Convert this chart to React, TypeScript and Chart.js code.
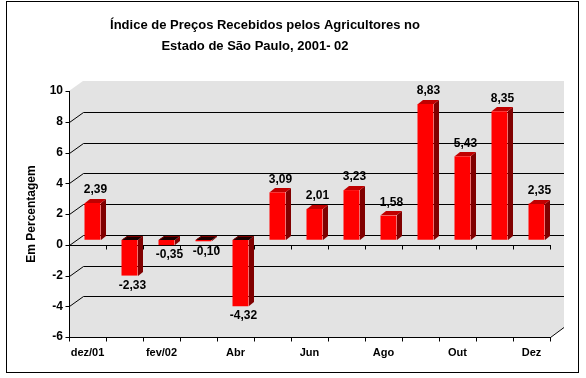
import React, { useEffect, useRef } from 'react';
import { Chart, registerables } from 'chart.js';

Chart.register(...registerables);

const categories = ['dez/01', 'jan/02', 'fev/02', 'Mar', 'Abr', 'Mai', 'Jun', 'Jul', 'Ago', 'Set', 'Out', 'Nov', 'Dez'];
const values = [2.39, -2.33, -0.35, -0.1, -4.32, 3.09, 2.01, 3.23, 1.58, 8.83, 5.43, 8.35, 2.35];
const yTicks = [-6, -4, -2, 0, 2, 4, 6, 8, 10];
const titleLines = ['Índice de Preços Recebidos pelos Agricultores no', 'Estado de São Paulo, 2001- 02'];
const yTitle = 'Em Percentagem';

const FONT = "'Liberation Sans', Arial, sans-serif";
const W = 586;
const H = 378;
const DX = 14; // wall depth x
const DY = 10; // wall depth y
const BX = 5; // bar depth x
const BY = 4; // bar depth y
const SX = 5; // bar shift x
const SY = 5; // bar shift y

const fmt = (v: number) => v.toFixed(2).replace('.', ',');

const excel3d = {
  id: 'excel3d',
  beforeDraw(chart: any) {
    const { ctx, chartArea: a, scales } = chart;
    const y = scales.y;
    ctx.save();
    ctx.fillStyle = '#ffffff';
    ctx.fillRect(0, 0, W, H);
    // outer border
    ctx.strokeStyle = '#000';
    ctx.lineWidth = 1;
    ctx.strokeRect(6.5, 1.5, 572, 371);
    // title
    ctx.fillStyle = '#000';
    ctx.font = `bold 13px ${FONT}`;
    ctx.textAlign = 'center';
    ctx.textBaseline = 'middle';
    ctx.fillText(titleLines[0], 265, 25);
    ctx.fillText(titleLines[1], 255, 46);
    // gray 3D box
    ctx.fillStyle = '#E3E3E3';
    ctx.beginPath();
    ctx.moveTo(a.left, a.top);
    ctx.lineTo(a.left + DX, a.top - DY);
    ctx.lineTo(a.right + DX, a.top - DY);
    ctx.lineTo(a.right + DX, a.bottom - DY);
    ctx.lineTo(a.right, a.bottom);
    ctx.lineTo(a.left, a.bottom);
    ctx.closePath();
    ctx.fill();
    // back wall gridlines with diagonals
    ctx.strokeStyle = '#000';
    ctx.lineWidth = 1;
    for (const v of yTicks) {
      if (v <= y.min || v >= y.max) continue;
      const py = Math.round(y.getPixelForValue(v)) + 0.5;
      ctx.beginPath();
      ctx.moveTo(a.left + 0.5, py);
      ctx.lineTo(a.left + DX + 0.5, py - DY);
      ctx.lineTo(a.right + DX, py - DY);
      ctx.stroke();
    }
    // bottom right diagonal
    ctx.beginPath();
    ctx.moveTo(a.right + 0.5, a.bottom + 0.5);
    ctx.lineTo(a.right + DX, a.bottom - DY + 0.5);
    ctx.stroke();
    ctx.restore();
  },
  beforeDatasetsDraw(chart: any) {
    const { ctx, chartArea: a, scales } = chart;
    const x = scales.x;
    const y = scales.y;
    ctx.save();
    ctx.strokeStyle = '#000';
    ctx.lineWidth = 1;
    // y axis line
    const ax = Math.round(a.left) + 0.5;
    ctx.beginPath();
    ctx.moveTo(ax, a.top);
    ctx.lineTo(ax, a.bottom + 1);
    ctx.stroke();
    // y tick marks
    for (const v of yTicks) {
      const py = Math.round(y.getPixelForValue(v)) + 0.5;
      ctx.beginPath();
      ctx.moveTo(ax - 4, py);
      ctx.lineTo(ax, py);
      ctx.stroke();
    }
    // category axis lines (zero and bottom) with tick marks
    const half = (x.getPixelForValue(1) - x.getPixelForValue(0)) / 2;
    const bounds: number[] = [];
    for (let i = 0; i < categories.length; i++) bounds.push(x.getPixelForValue(i) - half);
    bounds.push(x.getPixelForValue(categories.length - 1) + half);
    for (const lineY of [Math.round(y.getPixelForValue(0)) + 0.5, Math.round(a.bottom) + 0.5]) {
      ctx.beginPath();
      ctx.moveTo(ax, lineY);
      ctx.lineTo(a.right + 1, lineY);
      ctx.stroke();
      for (const b of bounds) {
        const bx = Math.round(b) + 0.5;
        ctx.beginPath();
        ctx.moveTo(bx, lineY);
        ctx.lineTo(bx, lineY + 4);
        ctx.stroke();
      }
    }
    ctx.restore();
    ctx.save();
    ctx.translate(SX, -SY);
  },
  afterDatasetsDraw(chart: any) {
    const ctx = chart.ctx;
    const meta = chart.getDatasetMeta(0);
    const poly = (pts: number[]) => {
      ctx.beginPath();
      ctx.moveTo(pts[0], pts[1]);
      for (let k = 2; k < pts.length; k += 2) ctx.lineTo(pts[k], pts[k + 1]);
      ctx.closePath();
      ctx.fill();
    };
    meta.data.forEach((bar: any, i: number) => {
      const { x, y, base, width } = bar;
      const l = Math.round(x - width / 2);
      const r = Math.round(x + width / 2);
      const top = Math.round(Math.min(y, base));
      const bot = Math.round(Math.max(y, base));
      const pos = values[i] >= 0;
      ctx.fillStyle = '#800000';
      poly([r, top, r + BX, top - BY, r + BX, bot - BY, r, bot]);
      ctx.fillStyle = pos ? '#C00000' : '#1a0000';
      poly([l, top, r, top, r + BX, top - BY, l + BX, top - BY]);
      if (!pos) {
        ctx.strokeStyle = '#800000';
        ctx.lineWidth = 1;
        ctx.beginPath();
        ctx.moveTo(l + 0.5, top - 0.5);
        ctx.lineTo(l + BX + 0.5, top - BY + 0.5);
        ctx.lineTo(r + BX - 0.5, top - BY + 0.5);
        ctx.stroke();
      }
    });
    ctx.restore();
    // value labels
    ctx.save();
    ctx.fillStyle = '#000';
    ctx.font = `bold 12px ${FONT}`;
    ctx.textAlign = 'center';
    ctx.textBaseline = 'middle';
    meta.data.forEach((bar: any, i: number) => {
      const v = values[i];
      const cx = bar.x + SX + 3;
      const frontY = bar.y - SY;
      const cy = v >= 0 ? frontY - 13 : frontY + 10;
      ctx.fillText(fmt(v), cx, cy);
    });
    ctx.restore();
  },
};

export default function App() {
  const ref = useRef<HTMLCanvasElement | null>(null);
  useEffect(() => {
    if (!ref.current) return;
    const chart = new Chart(ref.current, {
      type: 'bar',
      data: {
        labels: categories,
        datasets: [
          {
            data: values,
            backgroundColor: '#FF0000',
            borderWidth: 0,
            barPercentage: 16 / 37,
            categoryPercentage: 1,
          },
        ],
      },
      options: {
        animation: false,
        responsive: false,
        devicePixelRatio: 1,
        layout: { padding: { top: 91, right: 36, bottom: 0, left: 0 } },
        plugins: {
          legend: { display: false },
          title: { display: false },
          tooltip: { enabled: false },
        },
        scales: {
          x: {
            type: 'category',
            offset: true,
            grid: { display: false, drawTicks: false },
            border: { display: false },
            ticks: {
              autoSkip: false,
              maxRotation: 0,
              minRotation: 0,
              padding: 9,
              color: '#000',
              font: { family: FONT, size: 11, weight: 'bold' },
              callback: (_v: any, i: number) => (i % 2 === 0 ? categories[i] : ''),
            },
            afterFit: (s: any) => {
              s.height = 41;
            },
          },
          y: {
            min: -6,
            max: 10,
            grid: { display: false, drawTicks: false },
            border: { display: false },
            ticks: {
              stepSize: 2,
              padding: 6,
              color: '#000',
              font: { family: FONT, size: 12, weight: 'bold' },
            },
            title: {
              display: true,
              text: yTitle,
              color: '#000',
              font: { family: FONT, size: 12, weight: 'bold' },
              padding: { top: 24, bottom: 0 },
            },
            afterFit: (s: any) => {
              s.width = 69;
            },
          },
        },
      },
      plugins: [excel3d],
    } as any);
    return () => chart.destroy();
  }, []);
  return (
    <div style={{ position: 'fixed', left: 0, top: 0, width: W, height: H }}>
      <canvas ref={ref} width={W} height={H} style={{ display: 'block' }} />
    </div>
  );
}
